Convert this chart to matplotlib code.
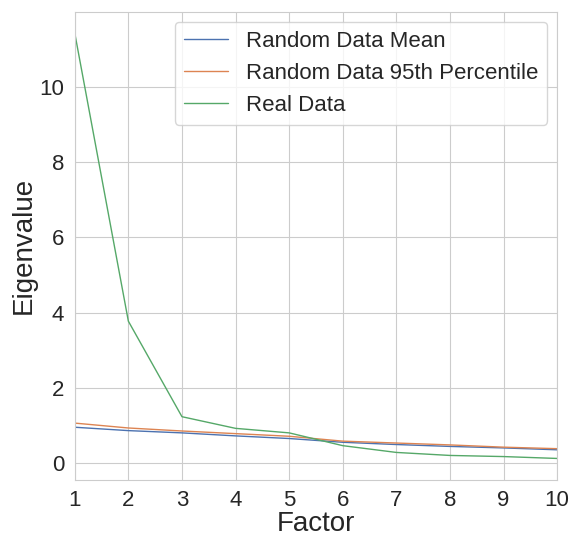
import numpy as np
import matplotlib
matplotlib.use('Agg')
import matplotlib.pyplot as plt
import seaborn as sns

sns.set_style('whitegrid')
plt.rcParams['font.family'] = ['Liberation Sans', 'DejaVu Sans']

factors = [1, 2, 3, 4, 5, 6, 7, 8, 9, 10]
rand_mean = [0.95, 0.86, 0.80, 0.72, 0.65, 0.55, 0.49, 0.44, 0.40, 0.35]
rand_95 = [1.06, 0.93, 0.85, 0.78, 0.71, 0.58, 0.53, 0.48, 0.42, 0.38]
real = [11.43, 3.77, 1.23, 0.92, 0.80, 0.46, 0.28, 0.20, 0.17, 0.12]

pal = sns.color_palette('deep')

fig = plt.figure(figsize=(5.75, 5.36), dpi=100)
ax = fig.add_axes([0.130, 0.105, 0.839, 0.873])
ax.plot(factors, rand_mean, color=pal[0], lw=1, label='Random Data Mean')
ax.plot(factors, rand_95, color=pal[1], lw=1, label='Random Data 95th Percentile')
ax.plot(factors, real, color=pal[2], lw=1, label='Real Data')
ax.set_xlim(1, 10)
ax.set_xticks(factors)
ax.set_yticks([0, 2, 4, 6, 8, 10])
ax.tick_params(labelsize=16, pad=4)
ax.set_xlabel('Factor', fontsize=20, labelpad=0)
ax.set_ylabel('Eigenvalue', fontsize=20, labelpad=2)
ax.legend(fontsize=16, loc='upper right', borderaxespad=0.45)
fig.savefig('out.png')
